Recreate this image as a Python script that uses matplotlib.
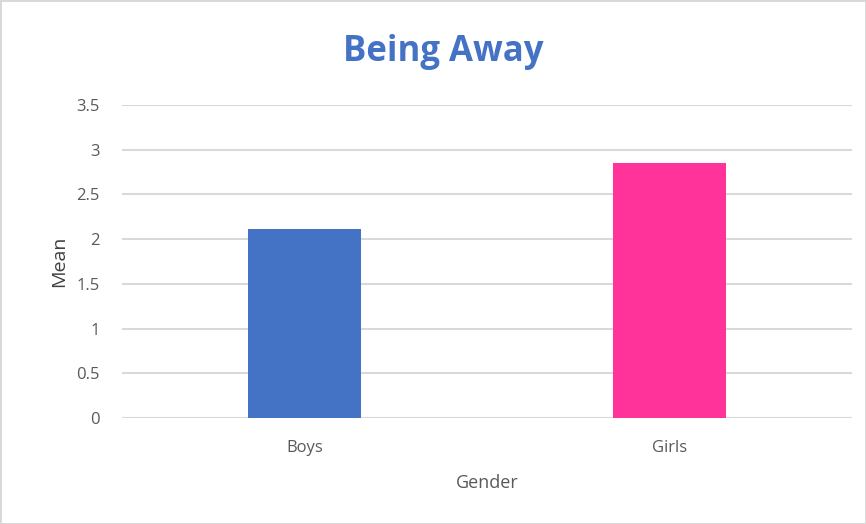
import matplotlib.pyplot as plt

# Data
genders = ['Boys', 'Girls']
means = [2.11, 2.85]
colors = ['#4472C4', '#FF3399']
yticks = [0, 0.5, 1, 1.5, 2, 2.5, 3, 3.5]
ytick_labels = ['0', '0.5', '1', '1.5', '2', '2.5', '3', '3.5']

plt.rcParams['font.family'] = ['Open Sans', 'DejaVu Sans']

fig = plt.figure(figsize=(8.66, 5.24), dpi=100)
fig.patch.set_edgecolor('#D9D9D9')
fig.patch.set_linewidth(2)
ax = fig.add_axes([0.141, 0.2023, 0.843, 0.5973])

x = range(len(genders))
ax.bar(x, means, width=0.31, color=colors, zorder=3)

ax.set_xlim(-0.5, 1.5)
ax.set_ylim(0, 3.5)
ax.set_yticks(yticks)
ax.set_yticklabels(ytick_labels)
ax.set_xticks(list(x))
ax.set_xticklabels(genders)
ax.grid(axis='y', color='#D9D9D9', linewidth=1.5, zorder=0)
for s in ax.spines.values():
    s.set_visible(False)
ax.tick_params(length=0, labelsize=12, colors='#595959')
ax.tick_params(axis='y', pad=16)
ax.tick_params(axis='x', pad=16)

ax.set_ylabel('Mean', fontsize=14, color='#404040', labelpad=6)
ax.set_xlabel('Gender', fontsize=13, color='#595959', labelpad=13)
fig.text(0.512, 0.9, 'Being Away', ha='center', va='center',
         fontsize=25, fontweight='bold', color='#4472C4')

fig.savefig('out.png', dpi=100)
